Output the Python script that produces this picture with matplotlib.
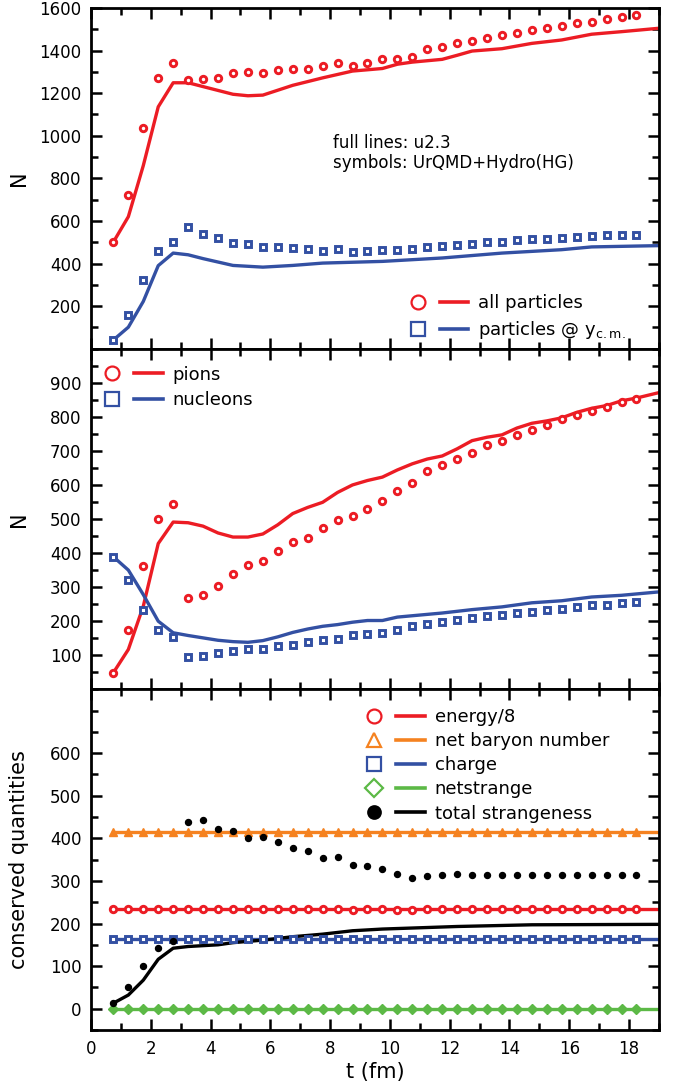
import numpy as np
import matplotlib.pyplot as plt
from matplotlib.lines import Line2D
from matplotlib.legend_handler import HandlerTuple
from matplotlib.ticker import MultipleLocator

plt.rcParams["font.family"] = ["DejaVu Sans"]

RED = "#ec1c24"
BLUE = "#3350a3"
ORANGE = "#f58220"
GREEN = "#5cb946"
BLACK = "#000000"

# time grid of the UrQMD+Hydro symbols (fm)
t_sym = np.arange(0.75, 18.3, 0.5)

# --- top panel: particle numbers ---
all_sym = [501, 722, 1038, 1271, 1343, 1263, 1265, 1270, 1293, 1298, 1293, 1311,
           1314, 1314, 1328, 1340, 1328, 1343, 1359, 1362, 1372, 1409, 1419, 1434,
           1447, 1461, 1475, 1485, 1496, 1504, 1516, 1529, 1536, 1547, 1556, 1566]
ycm_sym = [41, 158, 324, 459, 499, 570, 540, 518, 498, 490, 476, 476,
           471, 466, 459, 466, 454, 461, 465, 462, 468, 479, 484, 488,
           492, 499, 501, 512, 513, 517, 520, 523, 528, 532, 532, 536]
all_t = [0.75, 1.25, 1.75, 2.25, 2.75, 3.25, 3.75, 4.75, 5.25, 5.75, 6.75, 7.75,
         8.75, 9.75, 10.25, 10.75, 11.75, 12.25, 12.75, 13.75, 14.75, 15.75,
         16.75, 17.75, 19.0]
all_line = [501, 620, 860, 1136, 1249, 1249, 1231, 1195, 1188, 1191, 1237, 1272,
            1304, 1316, 1336, 1346, 1359, 1378, 1398, 1409, 1434, 1450, 1477,
            1489, 1505]
ycm_t = [0.75, 1.25, 1.75, 2.25, 2.75, 3.25, 3.75, 4.75, 5.75, 6.75, 7.75, 9.75,
         11.75, 13.75, 15.75, 16.75, 19.0]
ycm_line = [41, 101, 222, 390, 449, 441, 423, 391, 383, 391, 402, 410,
            426, 449, 465, 478, 484]

# --- middle panel: pions and nucleons ---
pion_sym = [49, 175, 361, 500, 544, 268, 278, 302, 339, 366, 377, 407,
            433, 444, 475, 498, 508, 530, 554, 583, 605, 642, 658, 677,
            695, 716, 730, 747, 760, 776, 793, 804, 817, 830, 843, 851]
nucl_sym = [389, 320, 234, 173, 153, 95, 97, 107, 112, 119, 119, 128,
            131, 140, 146, 149, 159, 163, 165, 173, 187, 193, 197, 203,
            210, 216, 219, 224, 227, 232, 237, 242, 247, 248, 254, 257]
pion_t = [0.75, 1.25, 1.75, 2.25, 2.75, 3.25, 3.75, 4.25, 4.75, 5.25, 5.75, 6.25,
          6.75, 7.25, 7.75, 8.25, 8.75, 9.25, 9.75, 10.25, 10.75, 11.25, 11.75,
          12.25, 12.75, 13.25, 13.75, 14.25, 14.75, 15.25, 15.75, 16.25, 16.75,
          17.25, 17.75, 18.25, 19.0]
pion_line = [49, 117, 244, 428, 491, 489, 479, 459, 447, 447, 456, 483,
             516, 534, 549, 578, 600, 613, 623, 644, 662, 676, 685,
             706, 730, 740, 747, 767, 781, 788, 797, 813, 825,
             833, 847, 855, 871]
nucl_t = [0.75, 1.25, 1.75, 2.25, 2.75, 3.25, 3.75, 4.25, 4.75, 5.25, 5.75, 6.25,
          6.75, 7.25, 7.75, 8.25, 8.75, 9.25, 9.75, 10.25, 10.75, 11.75, 12.75,
          13.75, 14.75, 15.75, 16.75, 17.75, 19.0]
nucl_line = [389, 350, 278, 200, 166, 158, 151, 144, 140, 138, 143, 154,
             167, 177, 185, 190, 197, 202, 202, 212, 216, 224, 234,
             242, 254, 260, 271, 276, 286]

# --- bottom panel: conserved quantities ---
energy_sym = [235, 235, 235, 235, 235, 235, 235, 235, 235, 235, 235, 235,
              235, 235, 235, 235, 232, 233, 235, 231, 231, 235, 235, 235,
              235, 235, 235, 235, 235, 235, 235, 235, 235, 235, 235, 235]
baryon_sym = [415] * 36
charge_sym = [164] * 36
netstr_sym = [0] * 36
strange_sym = [13, 50, 101, 143, 160, 439, 442, 423, 418, 401, 404, 391,
               378, 370, 355, 357, 338, 334, 328, 316, 308, 312, 314, 316,
               315, 315, 315, 315, 315, 315, 315, 315, 315, 315, 315, 314]
const_t = [0.75, 19.0]
energy_line = [235, 235]
baryon_line = [415, 415]
charge_line = [164, 164]
netstr_line = [0, 0]
strange_t = [0.75, 1.25, 1.75, 2.25, 2.75, 3.25, 4.25, 4.75, 5.75, 6.75, 7.75,
             8.75, 9.75, 12.25, 14.75, 19.0]
strange_line = [13, 32, 67, 116, 142, 146, 150, 155, 161, 169, 175,
                183, 187, 193, 197, 198]

fig = plt.figure(figsize=(6.73, 10.86), dpi=100)
gs = fig.add_gridspec(3, 1, left=0.1352, right=0.979, top=0.9926, bottom=0.0516,
                      hspace=0)
axes = [fig.add_subplot(gs[i]) for i in range(3)]

sym_kw = dict(linestyle="none", markersize=4.6, markeredgewidth=2.1,
              markerfacecolor="white")
line_kw = dict(linewidth=2.4)

# top
ax = axes[0]
ax.plot(all_t, all_line, color=RED, **line_kw)
ax.plot(ycm_t, ycm_line, color=BLUE, **line_kw)
ax.plot(t_sym, all_sym, marker="o", color=RED, **sym_kw)
ax.plot(t_sym, ycm_sym, marker="s", color=BLUE, **sym_kw)
ax.set_ylim(0, 1600)
ax.set_yticks(np.arange(200, 1601, 200))
ax.yaxis.set_minor_locator(MultipleLocator(100))
ax.set_ylabel("N", fontsize=15)
ax.text(0.426, 0.575, "full lines: u2.3\nsymbols: UrQMD+Hydro(HG)",
        transform=ax.transAxes, fontsize=12, va="center", ha="left",
        linespacing=1.15)

# middle
ax = axes[1]
ax.plot(pion_t, pion_line, color=RED, **line_kw)
ax.plot(nucl_t, nucl_line, color=BLUE, **line_kw)
ax.plot(t_sym, pion_sym, marker="o", color=RED, **sym_kw)
ax.plot(t_sym, nucl_sym, marker="s", color=BLUE, **sym_kw)
ax.set_ylim(0, 1000)
ax.set_yticks(np.arange(100, 901, 100))
ax.yaxis.set_minor_locator(MultipleLocator(50))
ax.set_ylabel("N", fontsize=15)

# bottom
ax = axes[2]
ax.plot(const_t, baryon_line, color=ORANGE, **line_kw)
ax.plot(const_t, energy_line, color=RED, **line_kw)
ax.plot(const_t, charge_line, color=BLUE, **line_kw)
ax.plot(const_t, netstr_line, color=GREEN, **line_kw)
ax.plot(strange_t, strange_line, color=BLACK, **line_kw)
ax.plot(t_sym, baryon_sym, linestyle="none", marker="^", markersize=6,
        color=ORANGE, markeredgewidth=1)
ax.plot(t_sym, energy_sym, marker="o", color=RED, **sym_kw)
ax.plot(t_sym, charge_sym, marker="s", color=BLUE, **sym_kw)
ax.plot(t_sym, netstr_sym, linestyle="none", marker="D", markersize=5,
        color=GREEN, markeredgewidth=1)
ax.plot(t_sym, strange_sym, linestyle="none", marker="o", markersize=4.3,
        color=BLACK)
ax.set_ylim(-50, 750)
ax.set_yticks(np.arange(0, 601, 100))
ax.yaxis.set_minor_locator(MultipleLocator(50))
ax.set_ylabel("conserved quantities", fontsize=15)
ax.set_xlabel("t (fm)", fontsize=15, labelpad=3)

for i, ax in enumerate(axes):
    ax.set_xlim(0, 19)
    ax.xaxis.set_major_locator(MultipleLocator(2))
    ax.xaxis.set_minor_locator(MultipleLocator(1))
    ax.tick_params(which="both", direction="in", top=True, right=True,
                   width=1.8, labelsize=12, pad=7)
    ax.tick_params(which="major", length=8)
    ax.tick_params(which="minor", length=5)
    for sp in ax.spines.values():
        sp.set_linewidth(2)
    ax.yaxis.set_label_coords(-0.11, 0.5)
    if i < 2:
        ax.tick_params(labelbottom=False)


def legend_entry(color, marker, mfc="white", mew=1.6, ms=10):
    m = Line2D([], [], linestyle="none", marker=marker, color=color,
               markerfacecolor=mfc, markeredgewidth=mew, markersize=ms)
    ln = Line2D([], [], color=color, linewidth=2.6)
    return (m, ln)


leg_kw = dict(frameon=False, fontsize=13, handlelength=3.6, handletextpad=0.55,
              labelspacing=0.4, borderpad=0, borderaxespad=0,
              handler_map={tuple: HandlerTuple(ndivide=None, pad=0.45)})

axes[0].legend([legend_entry(RED, "o"), legend_entry(BLUE, "s")],
               ["all particles", r"particles @ y$_{\rm c.m.}$"],
               loc="upper left", bbox_to_anchor=(0.55, 0.16), **leg_kw)

axes[1].legend([legend_entry(RED, "o"), legend_entry(BLUE, "s")],
               ["pions", "nucleons"],
               loc="upper left", bbox_to_anchor=(0.012, 0.95), **leg_kw)

axes[2].legend([legend_entry(RED, "o"), legend_entry(ORANGE, "^"),
                legend_entry(BLUE, "s"), legend_entry(GREEN, "D", ms=9),
                legend_entry(BLACK, "o", mfc=BLACK, ms=9)],
               ["energy/8", "net baryon number", "charge", "netstrange",
                "total strangeness"],
               loc="upper left", bbox_to_anchor=(0.473, 0.945),
               **dict(leg_kw, labelspacing=0.34))

fig.savefig("out.png", dpi=100)
